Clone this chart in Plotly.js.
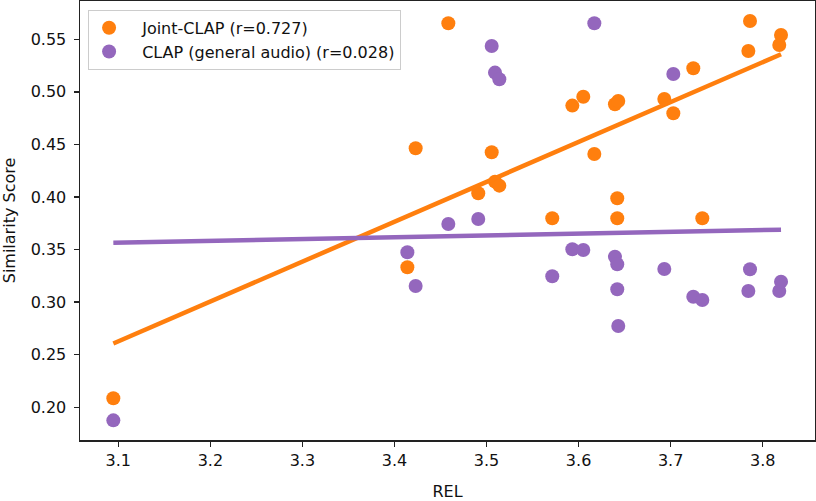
<!DOCTYPE html>
<html>
<head>
<meta charset="utf-8">
<script src="https://cdn.plot.ly/plotly-3.0.1.min.js"></script>
<style>
  html, body { margin: 0; padding: 0; background: #fff; }
  #chart { width: 816px; height: 501px; }
</style>
</head>
<body>
<div id="chart"></div>
<script>
// REL score per item (shared by both models)
var rel = [3.0946, 3.414, 3.423, 3.4585, 3.491, 3.5056, 3.5092, 3.5139,
  3.5714, 3.5932, 3.6051, 3.6171, 3.6395, 3.642, 3.642, 3.6431,
  3.6931, 3.7029, 3.7246, 3.7344, 3.7844, 3.7862, 3.818, 3.8199];

var jointClap = [0.2086, 0.3332, 0.4463, 0.5652, 0.4035, 0.4425, 0.4146, 0.4108,
  0.3798, 0.4869, 0.4954, 0.4409, 0.4882, 0.3988, 0.3798, 0.4913,
  0.4932, 0.4796, 0.5224, 0.3798, 0.5389, 0.5674, 0.5446, 0.5541];

var clapGeneral = [0.1876, 0.3474, 0.3154, 0.3743, 0.3791, 0.5436, 0.5183, 0.5120,
  0.3246, 0.3503, 0.3496, 0.5652, 0.3432, 0.3360, 0.3122, 0.2773,
  0.3315, 0.5170, 0.3052, 0.3020, 0.3106, 0.3313, 0.3106, 0.3195];

var seriesNames = ['Joint-CLAP (r=0.727)', 'CLAP (general audio) (r=0.028)'];
var seriesColors = ['#ff7f0e', '#9467bd'];

// least squares fit, drawn over the range of x
function fitLine(x, y) {
  var n = x.length, mx = 0, my = 0;
  for (var i = 0; i < n; i++) { mx += x[i]; my += y[i]; }
  mx /= n; my /= n;
  var sxy = 0, sxx = 0;
  for (var i = 0; i < n; i++) {
    sxy += (x[i] - mx) * (y[i] - my);
    sxx += (x[i] - mx) * (x[i] - mx);
  }
  var b = sxy / sxx, a = my - b * mx;
  var x0 = Math.min.apply(null, x), x1 = Math.max.apply(null, x);
  return { x: [x0, x1], y: [a + b * x0, a + b * x1] };
}

var data = [];
[jointClap, clapGeneral].forEach(function (vals, k) {
  data.push({
    x: rel, y: vals,
    mode: 'markers', type: 'scatter',
    // small gap between legend dot and text, like matplotlib
    name: '\u2002\u00a0' + seriesNames[k],
    marker: { color: seriesColors[k], size: 14 },
    hoverinfo: 'skip'
  });
  var f = fitLine(rel, vals);
  data.push({
    x: f.x, y: f.y,
    mode: 'lines', type: 'scatter',
    showlegend: false,
    line: { color: seriesColors[k], width: 4.5 },
    hoverinfo: 'skip'
  });
});

var axisStyle = {
  showline: true, mirror: true,
  linecolor: '#222', linewidth: 1.5,
  ticks: 'outside', ticklen: 5, tickwidth: 1.5, tickcolor: '#222',
  showgrid: false, zeroline: false,
  tickfont: { size: 16, color: '#111' }
};

var layout = {
  width: 816,
  height: 501,
  margin: { l: 80, r: 1, t: 1, b: 61 },
  paper_bgcolor: '#fff',
  plot_bgcolor: '#fff',
  font: { family: 'DejaVu Sans', color: '#111' },
  xaxis: Object.assign({}, axisStyle, {
    range: [3.0584, 3.8568],
    tick0: 3.1, dtick: 0.1,
    tickformat: '.1f',
    title: { text: 'REL', font: { size: 16 }, standoff: 18 }
  }),
  yaxis: Object.assign({}, axisStyle, {
    range: [0.1689, 0.5864],
    tick0: 0.2, dtick: 0.05,
    tickformat: '.2f',
    ticklabelstandoff: 4,
    title: { text: 'Similarity Score', font: { size: 16 }, standoff: 14 }
  }),
  legend: {
    x: 0.011, y: 0.98,
    xanchor: 'left', yanchor: 'top',
    bgcolor: 'rgba(255,255,255,0.8)',
    bordercolor: '#ccc', borderwidth: 1,
    font: { size: 16, color: '#111' }
  }
};

Plotly.newPlot('chart', data, layout, { displayModeBar: false, staticPlot: true });
</script>
</body>
</html>
